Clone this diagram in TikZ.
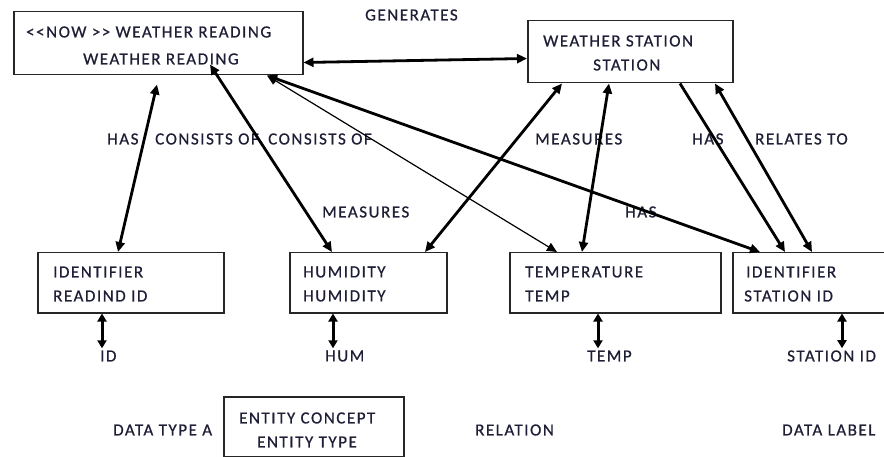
\documentclass[tikz,border=0pt]{standalone}
\usepackage{fontspec}
\setmainfont{Carlito}[LetterSpace=9,FakeBold=0.6]
\usetikzlibrary{arrows.meta,calc}
\definecolor{ink}{RGB}{30,30,55}
\begin{document}
\begin{tikzpicture}[x=1pt,y=-1pt,
  box/.style={draw=black!85, line width=1.5pt, inner sep=0pt, anchor=north west},
  lbl/.style={anchor=west, inner sep=0pt, text=ink, font=\fontsize{17}{20}\selectfont},
  tip/.tip={Triangle[length=10pt,width=9pt]},
  both/.style={line width=2.8pt, tip-tip},
  one/.style={line width=2.8pt, -tip},
  thin/.style={line width=1.2pt, tip-tip},
  short/.style={line width=3pt, {Triangle[length=8pt,width=9pt]}-{Triangle[length=8pt,width=9pt]}}]
\fill[white] (0,0) rectangle (884,457);
\useasboundingbox (0,0) rectangle (884,457);

% entity boxes
\node[box, minimum width=289pt, minimum height=63pt] (wr)  at (13,11)  {};
\node[box, minimum width=205pt, minimum height=62pt] (ws)  at (527,20) {};
\node[box, minimum width=186pt, minimum height=60pt] (rid) at (37,252) {};
\node[box, minimum width=157pt, minimum height=60pt] (hum) at (289,252) {};
\node[box, minimum width=211pt, minimum height=60pt] (tmp) at (509,252) {};
\node[box, minimum width=160pt, minimum height=60pt] (sid) at (732,252) {};
\node[box, minimum width=180pt, minimum height=60pt] (ent) at (223,396) {};

% box captions
\node[lbl] (wr1) at (26,32) {{<}{<}NOW {>}{>} WEATHER READING};
\node[lbl] (wr2) at (83,59) {WEATHER READING};
\node[lbl] (ws1) at (543,41) {WEATHER STATION};
\node[lbl] (ws2) at (593,65) {STATION};
\node[lbl] (rid1) at (53,272) {IDENTIFIER};
\node[lbl] (rid2) at (53,296) {READIND ID};
\node[lbl] (hum1) at (303,272) {HUMIDITY};
\node[lbl] (hum2) at (303,296) {HUMIDITY};
\node[lbl] (tmp1) at (525,272) {TEMPERATURE};
\node[lbl] (tmp2) at (525,296) {TEMP};
\node[lbl] (sid1) at (746,272) {IDENTIFIER};
\node[lbl] (sid2) at (744,296) {STATION ID};
\node[lbl] (ent1) at (239,418) {ENTITY CONCEPT};
\node[lbl] (ent2) at (257,442) {ENTITY TYPE};

% relation labels
\node[lbl] (lgen) at (365,15) {GENERATES};
\node[lbl] (lhas1) at (107,139) {HAS};
\node[lbl] (lcons1) at (155,139) {CONSISTS OF};
\node[lbl] (lcons2) at (268,139) {CONSISTS OF};
\node[lbl] (lmeas1) at (322,212) {MEASURES};
\node[lbl] (lmeas2) at (535,139) {MEASURES};
\node[lbl] (lhas2) at (692,139) {HAS};
\node[lbl] (lrel) at (755,139) {RELATES TO};
\node[lbl] (lhas3) at (625,212) {HAS};

% data labels
\node[lbl] (did) at (100,356) {ID};
\node[lbl] (dhum) at (325,356) {HUM};
\node[lbl] (dtmp) at (587,356) {TEMP};
\node[lbl] (dsid) at (787,356) {STATION ID};

% legend
\node[lbl] (kdt) at (113,430) {DATA TYPE A};
\node[lbl] (krel) at (475,430) {RELATION};
\node[lbl] (klab) at (782,430) {DATA LABEL};

% relations
\draw[both] ($(wr.south east)+(0,-13)$) -- ($(ws.south west)+(0,-25)$);
\draw[both] ($(wr.south west)+(144,9)$) -- ($(rid.north west)+(81,0)$);
\draw[both] ($(wr.south west)+(197,-11)$) -- ($(hum.north west)+(43,0)$);
\draw[thin] ($(wr.south west)+(254,0)$) -- ($(tmp.north west)+(48,0)$);
\draw[both] ($(wr.south west)+(254,0)$) -- ($(sid.north west)+(28,0)$);
\draw[both] ($(ws.south west)+(35,0)$) -- ($(hum.north west)+(136,0)$);
\draw[both] ($(ws.south west)+(82,0)$) -- ($(tmp.north west)+(73,0)$);
\draw[one]  ($(ws.south west)+(153,0)$) -- ($(sid.north west)+(53,0)$);
\draw[both] ($(ws.south west)+(188,0)$) -- ($(sid.north west)+(80,0)$);

% attribute links
\coordinate (a1) at ($(rid.south west)+(65,0)$);
\coordinate (a2) at ($(hum.south west)+(44,0)$);
\coordinate (a3) at ($(tmp.south west)+(89,0)$);
\coordinate (a4) at ($(sid.south west)+(110,0)$);
\draw[short] (a1) -- ($(a1 |- did.north)+(0,-2)$);
\draw[short] (a2) -- ($(a2 |- dhum.north)+(0,-2)$);
\draw[short] (a3) -- ($(a3 |- dtmp.north)+(0,-2)$);
\draw[short] (a4) -- ($(a4 |- dsid.north)+(0,-2)$);
\end{tikzpicture}
\end{document}
